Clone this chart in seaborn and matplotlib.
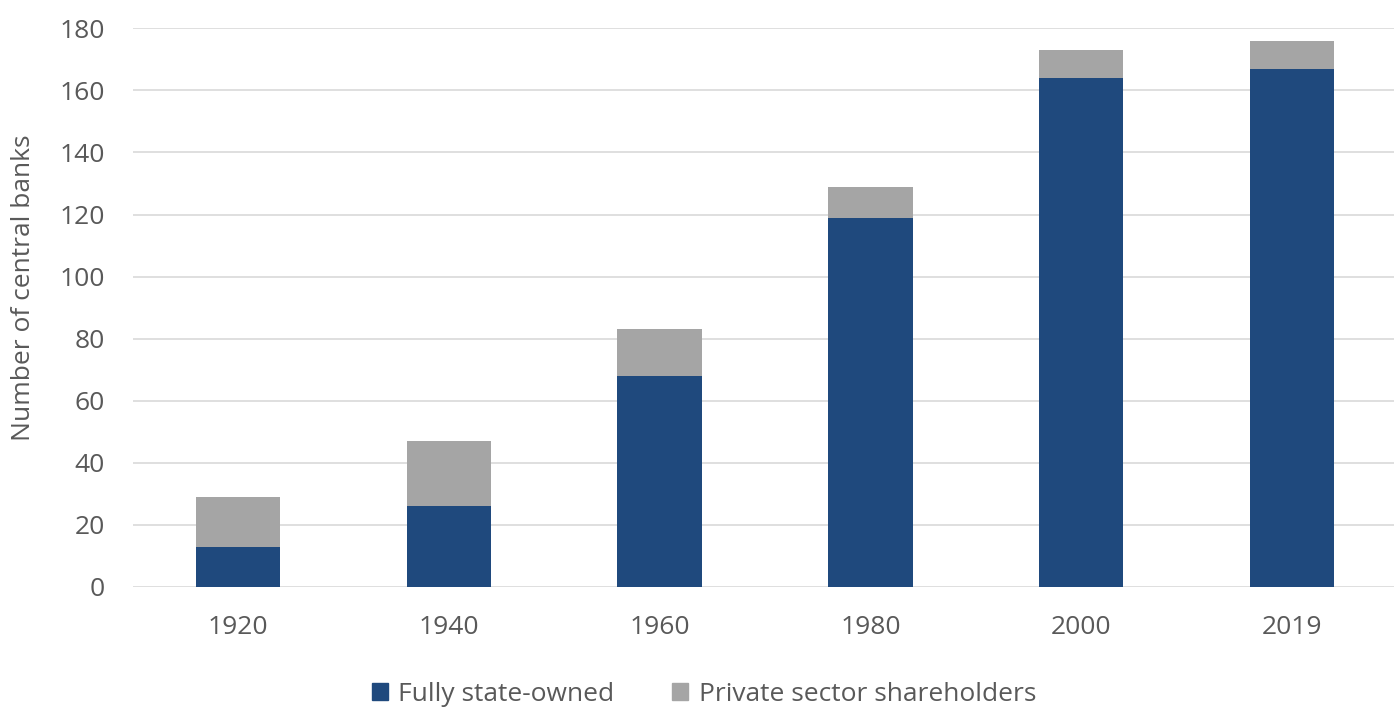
import matplotlib
matplotlib.use("Agg")
import matplotlib.pyplot as plt
import matplotlib.patches as mpatches
import pandas as pd
import seaborn as sns

# values
years = ["1920", "1940", "1960", "1980", "2000", "2019"]
fully_state_owned = [13, 26, 68, 119, 164, 167]
private_sector = [16, 21, 15, 10, 9, 9]

blue = "#1f497d"
grey = "#a5a5a5"
text_col = "#595959"
fs = 19

df = pd.DataFrame({"year": years, "state": fully_state_owned, "private": private_sector})
df["total"] = df["state"] + df["private"]

sns.set_style("white")
plt.rcParams["font.family"] = ["Open Sans", "DejaVu Sans"]

fig = plt.figure(figsize=(13.94, 7.08), dpi=100)
ax = fig.add_axes([0.0951, 0.171, 0.9073, 0.789])

# stacked bars: total in grey, state-owned over it in blue
sns.barplot(data=df, x="year", y="total", color=grey, width=0.4, saturation=1,
            linewidth=0, ax=ax, zorder=2)
sns.barplot(data=df, x="year", y="state", color=blue, width=0.4, saturation=1,
            linewidth=0, ax=ax, zorder=3)

ax.set_ylim(0, 180)
ax.set_yticks(range(0, 181, 20))
ax.grid(axis="y", color="#d9d9d9", linewidth=1.2, zorder=0)
ax.set_axisbelow(True)
sns.despine(ax=ax, left=True, bottom=True)

ax.tick_params(axis="x", length=0, pad=20, labelsize=fs, labelcolor=text_col)
ax.tick_params(axis="y", length=0, pad=20, labelsize=fs, labelcolor=text_col)
ax.set_xlabel("")
ax.set_ylabel("Number of central banks", fontsize=fs, color=text_col)
ax.yaxis.set_label_coords(-0.076, 0.535)

handles = [mpatches.Patch(color=blue, label="Fully state-owned"),
           mpatches.Patch(color=grey, label="Private sector shareholders")]
fig.legend(handles=handles, loc="lower center", bbox_to_anchor=(0.505, -0.032), ncol=2,
           frameon=False, fontsize=fs, handlelength=0.6, handleheight=0.6,
           handletextpad=0.4, columnspacing=2.2, labelcolor=text_col)

fig.savefig("out.png", dpi=100)
